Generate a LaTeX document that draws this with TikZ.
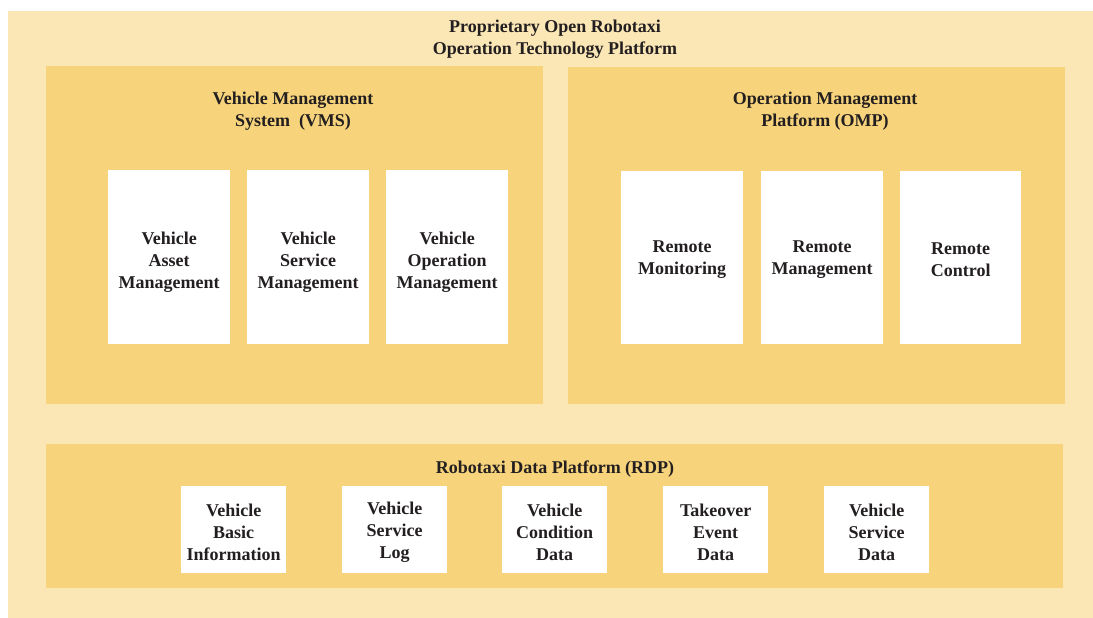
\documentclass[tikz,border=0pt]{standalone}
\usepackage{fontspec}
\setmainfont{Liberation Serif}
\usetikzlibrary{positioning}
\definecolor{outerfill}{RGB}{251,230,181}
\definecolor{panelfill}{RGB}{247,212,123}
\definecolor{textgray}{RGB}{35,31,32}

\begin{document}
\begin{tikzpicture}[x=1pt, y=-1pt,
    panel/.style={rectangle, fill=panelfill, inner sep=0pt, anchor=north west},
    module/.style={rectangle, fill=white, inner sep=0pt, anchor=north west},
    heading/.style={text=textgray, align=center, inner sep=0pt, font=\bfseries\fontsize{18}{22}\selectfont}]
    \useasboundingbox (0,0) rectangle (1093,618);

    % Platform
    \node[rectangle, fill=outerfill, inner sep=0pt, anchor=north west, minimum width=1085pt, minimum height=607pt] (otp) at (8,11) {};
    \node[heading] (otptitle) at (555,39) {Proprietary Open Robotaxi\\Operation Technology Platform};

    % VMS
    \node[panel, minimum width=497pt, minimum height=338pt] (vms) at (46,66) {};
    \node[heading] (vmstitle) at (293,111) {Vehicle Management\\System~~(VMS)};
    \node[module, minimum width=122pt, minimum height=174pt] (vam) at (108,170) {};
    \node[module, minimum width=122pt, minimum height=174pt] (vsm) at (247,170) {};
    \node[module, minimum width=122pt, minimum height=174pt] (vom) at (386,170) {};
    \node[heading] (vamtext) at ([yshift=-5pt]vam.center) {Vehicle\\Asset\\Management};
    \node[heading] (vsmtext) at ([yshift=-5pt]vsm.center) {Vehicle\\Service\\Management};
    \node[heading] (vomtext) at ([yshift=-5pt]vom.center) {Vehicle\\Operation\\Management};

    % OMP
    \node[panel, minimum width=497pt, minimum height=337pt] (omp) at (568,67) {};
    \node[heading] (omptitle) at (825,111) {Operation Management\\Platform (OMP)};
    \node[module, minimum width=122pt, minimum height=173pt] (rmon) at (621,171) {};
    \node[module, minimum width=122pt, minimum height=173pt] (rman) at (761,171) {};
    \node[module, minimum width=121pt, minimum height=173pt] (rctl) at (900,171) {};
    \node[heading] (rmontext) at ([yshift=-2pt]rmon.center) {Remote\\Monitoring};
    \node[heading] (rmantext) at ([yshift=-2pt]rman.center) {Remote\\Management};
    \node[heading] (rctltext) at ([yshift=-2pt]rctl.center) {Remote\\Control};

    % RDP
    \node[panel, minimum width=1017pt, minimum height=144pt] (rdp) at (46,444) {};
    \node[heading] (rdptitle) at (555,469) {Robotaxi Data Platform (RDP)};
    \node[module, minimum width=105pt, minimum height=87pt] (vbi) at (181,486) {};
    \node[module, minimum width=105pt, minimum height=87pt] (vsl) at (342,486) {};
    \node[module, minimum width=105pt, minimum height=87pt] (vcd) at (502,486) {};
    \node[module, minimum width=105pt, minimum height=87pt] (ted) at (663,486) {};
    \node[module, minimum width=105pt, minimum height=87pt] (vsd) at (824,486) {};
    \node[heading] (vbitext) at ([yshift=-3pt]vbi.center) {Vehicle\\Basic\\Information};
    \node[heading] (vsltext) at ([yshift=-3pt]vsl.center) {Vehicle\\Service\\Log};
    \node[heading] (vcdtext) at ([yshift=-3pt]vcd.center) {Vehicle\\Condition\\Data};
    \node[heading] (tedtext) at ([yshift=-3pt]ted.center) {Takeover\\Event\\Data};
    \node[heading] (vsdtext) at ([yshift=-3pt]vsd.center) {Vehicle\\Service\\Data};
\end{tikzpicture}
\end{document}
